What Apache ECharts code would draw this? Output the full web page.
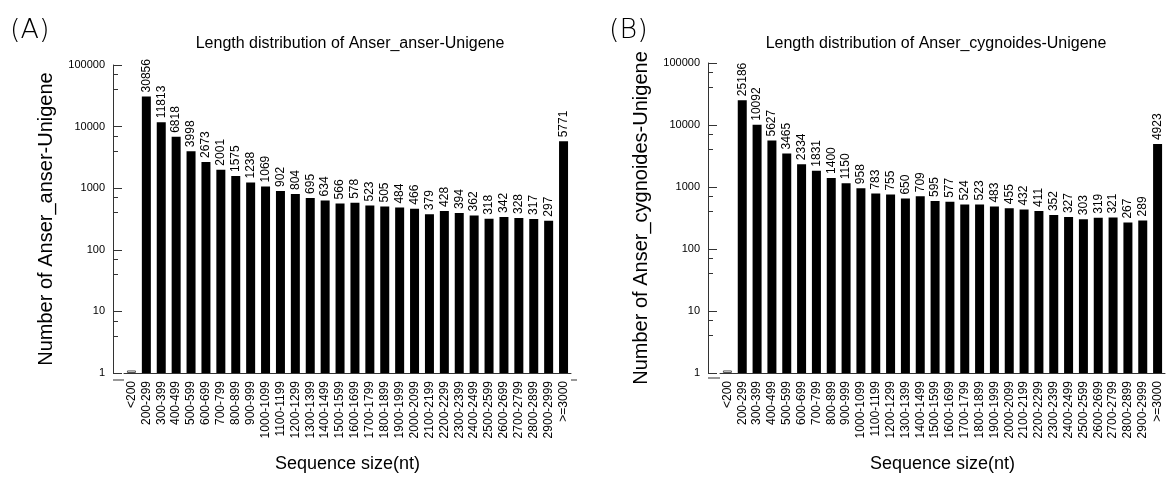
<!DOCTYPE html>
<html>
<head>
<meta charset="utf-8">
<script src="https://cdn.jsdelivr.net/npm/echarts@6/dist/echarts.min.js"></script>
<style>
  html, body { margin: 0; padding: 0; background: #fff; }
  #chart { width: 1167px; height: 478px; }
</style>
</head>
<body>
<div id="chart"></div>
<script>
const categories = ['<200', '200-299', '300-399', '400-499', '500-599', '600-699', '700-799', '800-899', '900-999',
  '1000-1099', '1100-1199', '1200-1299', '1300-1399', '1400-1499', '1500-1599', '1600-1699', '1700-1799',
  '1800-1899', '1900-1999', '2000-2099', '2100-2199', '2200-2299', '2300-2399', '2400-2499', '2500-2599',
  '2600-2699', '2700-2799', '2800-2899', '2900-2999', '>=3000']

// <200 is drawn as a near-empty box at the bottom of the axis
const anserValues = [1.1, 30856, 11813, 6818, 3998, 2673, 2001, 1575, 1238, 1069, 902, 804, 695, 634, 566, 578,
  523, 505, 484, 466, 379, 428, 394, 362, 318, 342, 328, 317, 297, 5771]
const cygnoidesValues = [1.1, 25186, 10092, 5627, 3465, 2334, 1831, 1400, 1150, 958, 783, 755, 650, 709, 595, 577,
  524, 523, 483, 455, 432, 411, 352, 327, 303, 319, 321, 267, 289, 4923]

const titles = ['Length distribution of Anser_anser-Unigene', 'Length distribution of Anser_cygnoides-Unigene']
const yNames = ['Number of Anser_anser-Unigene', 'Number of Anser_cygnoides-Unigene']
const xName = 'Sequence size(nt)'

const font = 'Liberation Sans, Arial, sans-serif'
const grids = [
  { left: 124, top: 65, width: 447, height: 315 },
  { left: 720, top: 63, width: 445, height: 315 }
]

const chart = echarts.init(document.getElementById('chart'))

const barData = values => values.map((v, i) => i === 0
  ? { value: v, itemStyle: { color: '#fff', borderColor: '#555', borderWidth: 1 }, label: { show: false } }
  : v)

const option = {
  animation: false,
  textStyle: { fontFamily: font },
  title: [
    { text: titles[0], left: 345, top: 31, textAlign: 'center',
      textStyle: { fontSize: 16, fontWeight: 'normal', color: '#000', fontFamily: font } },
    { text: titles[1], left: 931, top: 31, textAlign: 'center',
      textStyle: { fontSize: 16, fontWeight: 'normal', color: '#000', fontFamily: font } }
  ],
  graphic: [
    { type: 'text', left: 10, top: 17, style: { text: '(A)', fontSize: 27, fontFamily: 'DejaVu Sans', fontWeight: 200, fill: '#000' } },
    { type: 'text', left: 609, top: 17, style: { text: '(B)', fontSize: 27, fontFamily: 'DejaVu Sans', fontWeight: 200, fill: '#000' } },
    // base line between offset y axis and grid start
    { type: 'line', shape: { x1: 113, y1: 380, x2: 124, y2: 380 }, style: { stroke: '#333', lineWidth: 1 } },
    { type: 'line', shape: { x1: 571, y1: 380, x2: 577, y2: 380 }, style: { stroke: '#333', lineWidth: 1 } },
    { type: 'line', shape: { x1: 708, y1: 378, x2: 720, y2: 378 }, style: { stroke: '#333', lineWidth: 1 } }
  ],
  grid: grids,
  xAxis: [0, 1].map(i => ({
    type: 'category',
    gridIndex: i,
    data: categories,
    name: xName,
    nameLocation: 'middle',
    nameGap: 82,
    nameTextStyle: { fontSize: 18, color: '#000', fontFamily: font },
    axisLine: { lineStyle: { color: '#333' } },
    axisTick: { show: false },
    axisLabel: { interval: 0, rotate: 90, fontSize: 12, color: '#000', margin: 8, fontFamily: font }
  })),
  yAxis: [0, 1].map(i => ({
    type: 'log',
    gridIndex: i,
    logBase: 10,
    min: 1,
    max: 100000,
    offset: i === 0 ? 11 : 12,
    name: yNames[i],
    nameLocation: 'middle',
    nameGap: 57,
    nameTextStyle: { fontSize: 20, color: '#000', fontFamily: font },
    axisLine: { show: true, lineStyle: { color: '#333' } },
    axisTick: { show: true, inside: true, length: 9, lineStyle: { color: '#333' } },
    minorTick: { show: true, splitNumber: 3, length: 5, lineStyle: { color: '#333' } },
    splitLine: { show: false },
    axisLabel: { fontSize: 11, color: '#000', margin: 8, fontFamily: font,
      formatter: v => String(Math.round(v)) }
  })),
  series: [anserValues, cygnoidesValues].map((vals, i) => ({
    type: 'bar',
    xAxisIndex: i,
    yAxisIndex: i,
    data: barData(vals),
    barWidth: 9,
    itemStyle: { color: '#000' },
    label: {
      show: true,
      position: 'top',
      rotate: 90,
      align: 'left',
      verticalAlign: 'middle',
      distance: 4,
      fontSize: 12,
      color: '#000',
      fontFamily: font
    }
  }))
}

chart.setOption(option)
</script>
</body>
</html>
